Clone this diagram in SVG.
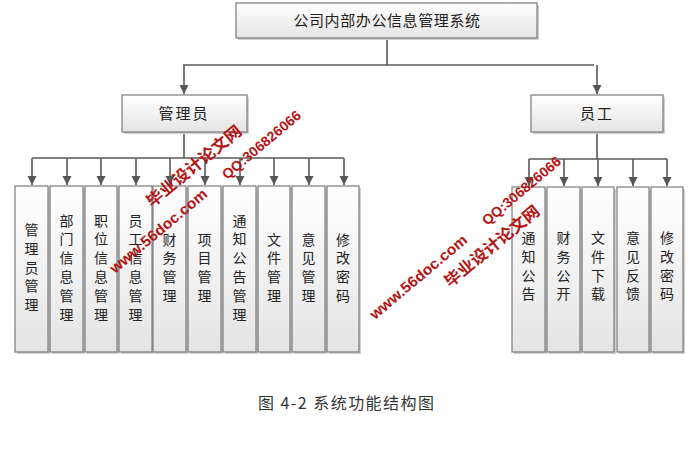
<svg xmlns="http://www.w3.org/2000/svg" width="698" height="452" viewBox="0 0 698 452">
<defs>
<linearGradient id="g" x1="0" y1="0" x2="0" y2="1">
<stop offset="0" stop-color="#ffffff"/>
<stop offset="1" stop-color="#e4e4e4"/>
</linearGradient>
<marker id="arr" markerUnits="userSpaceOnUse" markerWidth="10" markerHeight="10" refX="9" refY="5" orient="auto">
<path d="M0,0.5 L9,5 L0,9.5 Z" fill="#555"/>
</marker>
<style>
.box{fill:url(#g);stroke:#7a7a7a;stroke-width:1.2}
.sh{fill:#cfcfcf}
.ln{fill:none;stroke:#595959;stroke-width:1.6}
.t{font-family:"Noto Sans CJK SC","Noto Sans",sans-serif;font-size:14px;fill:#222}
.tt{font-family:"Noto Sans CJK SC","Noto Sans",sans-serif;font-size:15px;fill:#222;text-anchor:middle}
.v{font-family:"Noto Sans CJK SC","Noto Sans",sans-serif;font-size:14px;fill:#222;text-anchor:middle}
.wm{font-family:"Liberation Sans","Noto Sans CJK SC",sans-serif;font-weight:bold;fill:#b31515}
</style>
</defs>
<rect width="698" height="452" fill="#fff"/>

<g id="connectors">
<path class="ln" d="M387,38 V65 M183,65 H594"/>
<path class="ln" d="M184,65 V94" marker-end="url(#arr)"/>
<path class="ln" d="M597,65 V94" marker-end="url(#arr)"/>
<path class="ln" d="M184,132 V158 M32,158 H344"/>
<path class="ln" d="M32,158 V185" marker-end="url(#arr)"/>
<path class="ln" d="M67,158 V185" marker-end="url(#arr)"/>
<path class="ln" d="M101,158 V185" marker-end="url(#arr)"/>
<path class="ln" d="M136,158 V185" marker-end="url(#arr)"/>
<path class="ln" d="M170,158 V185" marker-end="url(#arr)"/>
<path class="ln" d="M205,158 V185" marker-end="url(#arr)"/>
<path class="ln" d="M240,158 V185" marker-end="url(#arr)"/>
<path class="ln" d="M274,158 V185" marker-end="url(#arr)"/>
<path class="ln" d="M309,158 V185" marker-end="url(#arr)"/>
<path class="ln" d="M344,158 V185" marker-end="url(#arr)"/>
<path class="ln" d="M597,132 V159 M529,159 H667"/>
<path class="ln" d="M529,159 V186" marker-end="url(#arr)"/>
<path class="ln" d="M564,159 V186" marker-end="url(#arr)"/>
<path class="ln" d="M598,159 V186" marker-end="url(#arr)"/>
<path class="ln" d="M633,159 V186" marker-end="url(#arr)"/>
<path class="ln" d="M667,159 V186" marker-end="url(#arr)"/>
</g>

<g id="root">
<rect class="sh" x="238" y="5" width="301" height="35"/>
<rect class="box" x="236" y="3" width="301" height="35"/>
<text class="tt" x="387" y="26" letter-spacing="0.6">公司内部办公信息管理系统</text>
</g>
<g id="admin">
<rect class="sh" x="124" y="97" width="125" height="37"/>
<rect class="box" x="122" y="95" width="125" height="37"/>
<text class="tt" x="184" y="119" font-size="14" letter-spacing="2">管理员</text>
</g>
<g id="staff">
<rect class="sh" x="533" y="97" width="132" height="37"/>
<rect class="box" x="531" y="95" width="132" height="37"/>
<text class="tt" x="597" y="119" font-size="14" letter-spacing="2">员工</text>
</g>

<g id="a1"><rect class="sh" x="17" y="188" width="33" height="166"/><rect class="box" x="15" y="186" width="33" height="166"/>
<text class="v" y="235"><tspan x="31.5">管</tspan><tspan x="31.5" dy="18.8">理</tspan><tspan x="31.5" dy="18.8">员</tspan><tspan x="31.5" dy="18.8">管</tspan><tspan x="31.5" dy="18.8">理</tspan></text></g>
<g id="a2"><rect class="sh" x="52" y="188" width="33" height="166"/><rect class="box" x="50" y="186" width="33" height="166"/>
<text class="v" y="225.5"><tspan x="66.5">部</tspan><tspan x="66.5" dy="18.8">门</tspan><tspan x="66.5" dy="18.8">信</tspan><tspan x="66.5" dy="18.8">息</tspan><tspan x="66.5" dy="18.8">管</tspan><tspan x="66.5" dy="18.8">理</tspan></text></g>
<g id="a3"><rect class="sh" x="87" y="188" width="32" height="166"/><rect class="box" x="85" y="186" width="32" height="166"/>
<text class="v" y="225.5"><tspan x="101">职</tspan><tspan x="101" dy="18.8">位</tspan><tspan x="101" dy="18.8">信</tspan><tspan x="101" dy="18.8">息</tspan><tspan x="101" dy="18.8">管</tspan><tspan x="101" dy="18.8">理</tspan></text></g>
<g id="a4"><rect class="sh" x="121" y="188" width="33" height="166"/><rect class="box" x="119" y="186" width="33" height="166"/>
<text class="v" y="225.5"><tspan x="135.5">员</tspan><tspan x="135.5" dy="18.8">工</tspan><tspan x="135.5" dy="18.8">信</tspan><tspan x="135.5" dy="18.8">息</tspan><tspan x="135.5" dy="18.8">管</tspan><tspan x="135.5" dy="18.8">理</tspan></text></g>
<g id="a5"><rect class="sh" x="155" y="188" width="33" height="166"/><rect class="box" x="153" y="186" width="33" height="166"/>
<text class="v" y="244.5"><tspan x="169.5">财</tspan><tspan x="169.5" dy="18.8">务</tspan><tspan x="169.5" dy="18.8">管</tspan><tspan x="169.5" dy="18.8">理</tspan></text></g>
<g id="a6"><rect class="sh" x="190" y="188" width="33" height="166"/><rect class="box" x="188" y="186" width="33" height="166"/>
<text class="v" y="244.5"><tspan x="204.5">项</tspan><tspan x="204.5" dy="18.8">目</tspan><tspan x="204.5" dy="18.8">管</tspan><tspan x="204.5" dy="18.8">理</tspan></text></g>
<g id="a7"><rect class="sh" x="225" y="188" width="33" height="166"/><rect class="box" x="223" y="186" width="33" height="166"/>
<text class="v" y="225.5"><tspan x="239.5">通</tspan><tspan x="239.5" dy="18.8">知</tspan><tspan x="239.5" dy="18.8">公</tspan><tspan x="239.5" dy="18.8">告</tspan><tspan x="239.5" dy="18.8">管</tspan><tspan x="239.5" dy="18.8">理</tspan></text></g>
<g id="a8"><rect class="sh" x="260" y="188" width="32" height="166"/><rect class="box" x="258" y="186" width="32" height="166"/>
<text class="v" y="244.5"><tspan x="274">文</tspan><tspan x="274" dy="18.8">件</tspan><tspan x="274" dy="18.8">管</tspan><tspan x="274" dy="18.8">理</tspan></text></g>
<g id="a9"><rect class="sh" x="294" y="188" width="33" height="166"/><rect class="box" x="292" y="186" width="33" height="166"/>
<text class="v" y="244.5"><tspan x="308.5">意</tspan><tspan x="308.5" dy="18.8">见</tspan><tspan x="308.5" dy="18.8">管</tspan><tspan x="308.5" dy="18.8">理</tspan></text></g>
<g id="a10"><rect class="sh" x="329" y="188" width="32" height="166"/><rect class="box" x="327" y="186" width="32" height="166"/>
<text class="v" y="244.5"><tspan x="343">修</tspan><tspan x="343" dy="18.8">改</tspan><tspan x="343" dy="18.8">密</tspan><tspan x="343" dy="18.8">码</tspan></text></g>

<g id="s1"><rect class="sh" x="514" y="189" width="33" height="165"/><rect class="box" x="512" y="187" width="33" height="165"/>
<text class="v" y="243"><tspan x="528.5">通</tspan><tspan x="528.5" dy="18.8">知</tspan><tspan x="528.5" dy="18.8">公</tspan><tspan x="528.5" dy="18.8">告</tspan></text></g>
<g id="s2"><rect class="sh" x="549" y="189" width="33" height="165"/><rect class="box" x="547" y="187" width="33" height="165"/>
<text class="v" y="243"><tspan x="563.5">财</tspan><tspan x="563.5" dy="18.8">务</tspan><tspan x="563.5" dy="18.8">公</tspan><tspan x="563.5" dy="18.8">开</tspan></text></g>
<g id="s3"><rect class="sh" x="584" y="189" width="32" height="165"/><rect class="box" x="582" y="187" width="32" height="165"/>
<text class="v" y="243"><tspan x="598">文</tspan><tspan x="598" dy="18.8">件</tspan><tspan x="598" dy="18.8">下</tspan><tspan x="598" dy="18.8">载</tspan></text></g>
<g id="s4"><rect class="sh" x="619" y="189" width="32" height="165"/><rect class="box" x="617" y="187" width="32" height="165"/>
<text class="v" y="243"><tspan x="633">意</tspan><tspan x="633" dy="18.8">见</tspan><tspan x="633" dy="18.8">反</tspan><tspan x="633" dy="18.8">馈</tspan></text></g>
<g id="s5"><rect class="sh" x="653" y="189" width="32" height="165"/><rect class="box" x="651" y="187" width="32" height="165"/>
<text class="v" y="243"><tspan x="667">修</tspan><tspan x="667" dy="18.8">改</tspan><tspan x="667" dy="18.8">密</tspan><tspan x="667" dy="18.8">码</tspan></text></g>

<g id="watermarks">
<text class="wm" font-size="16" transform="translate(152,208) rotate(-39.5)" textLength="118" lengthAdjust="spacingAndGlyphs">毕业设计论文网</text>
<text class="wm" font-size="14" transform="translate(227,180) rotate(-40)" textLength="98" lengthAdjust="spacingAndGlyphs">QQ:306826066</text>
<text class="wm" font-size="15" transform="translate(115,274) rotate(-40)" textLength="122" lengthAdjust="spacingAndGlyphs">www.56doc.com</text>
<text class="wm" font-size="16" transform="translate(450,288) rotate(-39.5)" textLength="118" lengthAdjust="spacingAndGlyphs">毕业设计论文网</text>
<text class="wm" font-size="14" transform="translate(487,226) rotate(-40)" textLength="98" lengthAdjust="spacingAndGlyphs">QQ:306826066</text>
<text class="wm" font-size="15" transform="translate(375,320) rotate(-40)" textLength="122" lengthAdjust="spacingAndGlyphs">www.56doc.com</text>
</g>

<text id="caption" x="258" y="409" font-family="Noto Sans CJK SC, sans-serif" font-size="16" fill="#333" textLength="176" lengthAdjust="spacing">图 4-2 系统功能结构图</text>
</svg>
